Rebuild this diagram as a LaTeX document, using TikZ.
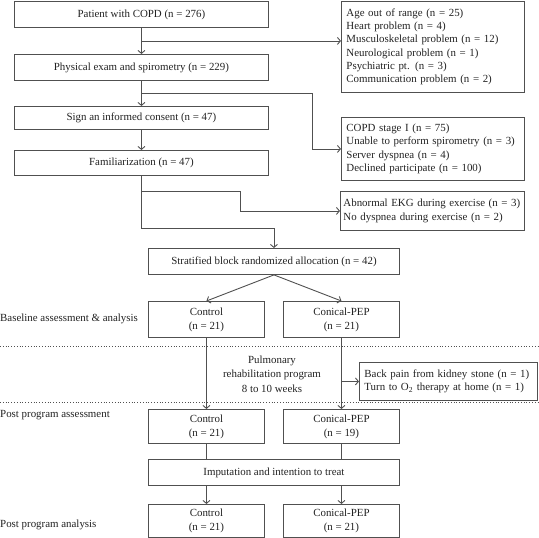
\documentclass[tikz,border=0pt]{standalone}
\usepackage{fontspec}
\setmainfont{Liberation Serif}
\usetikzlibrary{arrows.meta,calc}
\definecolor{ln}{HTML}{505050}
\definecolor{tx}{HTML}{222222}
\tikzset{
  box/.style={draw=ln, line width=0.9pt, anchor=north west, inner sep=2pt, align=center, text=tx, font=\fontsize{10.9}{14}\selectfont},
  lbox/.style={box, align=left, inner xsep=5pt, font=\fontsize{10.9}{13.3}\selectfont},
  arr/.style={draw=ln, line width=0.9pt, -{Straight Barb[length=3pt,width=7pt]}},
  ln/.style={draw=ln, line width=0.9pt},
  lab/.style={anchor=west, inner sep=0pt, text=tx, font=\fontsize{10.9}{14}\selectfont},
  dots/.style={draw=ln, line width=0.8pt, dotted}
}
\begin{document}
\begin{tikzpicture}[x=1pt,y=-1pt]
\useasboundingbox (0,0) rectangle (539,538);
% main column
\node[box, minimum width=254, minimum height=26] (p1) at (14,1) {Patient with COPD (n = 276)};
\node[box, minimum width=254, minimum height=26] (p2) at (14,54) {Physical exam and spirometry (n = 229)};
\node[box, minimum width=254, minimum height=23] (p3) at (14,106) {Sign an informed consent (n = 47)};
\node[box, minimum width=254, minimum height=25] (p4) at (14,150) {Familiarization (n = 47)};
% exclusion boxes
\node[lbox, minimum width=183, minimum height=91, text width=173] (exA) at (341,1) {Age out of range (n = 25)\\Heart problem (n = 4)\\Musculoskeletal problem (n = 12)\\Neurological problem (n = 1)\\Psychiatric pt. (n = 3)\\Communication problem (n = 2)};
\node[lbox, minimum width=183, minimum height=63, text width=173] (exB) at (341,117) {COPD stage I (n = 75)\\Unable to perform spirometry (n = 3)\\Server dyspnea (n = 4)\\Declined participate (n = 100)};
\node[lbox, inner xsep=3pt, minimum width=184, minimum height=39, text width=178] (exC) at (340,191) {Abnormal EKG during exercise (n = 3)\\No dyspnea during exercise (n = 2)};
% allocation
\node[box, minimum width=251, minimum height=26] (strat) at (148,248) {Stratified block randomized allocation (n = 42)};
\node[box, minimum width=116, minimum height=36] (ctl1) at (148,301) {Control\\(n = 21)};
\node[box, minimum width=116, minimum height=36] (pep1) at (283,301) {Conical-PEP\\(n = 21)};
\node[lbox, minimum width=178, minimum height=38, text width=168] (exD) at (359,362) {Back pain from kidney stone (n = 1)\\Turn to O\textsubscript{2} therapy at home (n = 1)};
\node[box, minimum width=116, minimum height=34] (ctl2) at (148,409) {Control\\(n = 21)};
\node[box, minimum width=116, minimum height=34] (pep2) at (283,409) {Conical-PEP\\(n = 19)};
\node[box, minimum width=251, minimum height=26] (imp) at (148,459) {Imputation and intention to treat};
\node[box, minimum width=116, minimum height=33] (ctl3) at (148,504) {Control\\(n = 21)};
\node[box, minimum width=116, minimum height=33] (pep3) at (283,504) {Conical-PEP\\(n = 21)};
% side labels
\node[lab] (l1) at (0,319) {Baseline assessment \& analysis};
\node[lab] (l2) at (0,415) {Post program assessment};
\node[lab] (l3) at (0,525) {Post program analysis};
\node[align=center, inner sep=0pt, text=tx, font=\fontsize{10.9}{14.5}\selectfont] (prog) at (272,374) {Pulmonary\\rehabilitation program\\8 to 10 weeks};
% dotted separators
\draw[dots] (0,346) -- (539,346);
\draw[dots] (0,402) -- (539,402);
% connectors
\coordinate (b1) at ($(p1.south)!0.5!(p2.north)$);
\coordinate (b2) at ($(p2.south)!0.5!(p3.north)$);
\coordinate (b3) at ($(p4.south)+(0,16)$);
\coordinate (b4) at ($(strat.north)+(0,-20)$);
\draw[arr] (p1.south) -- (p2.north);
\draw[arr] (b1) -- (b1 -| exA.west);
\draw[arr] (p2.south) -- (p3.north);
\draw[arr] (b2) -- ++(171,0) |- (exB.west);
\draw[arr] (p3.south) -- (p4.north);
\draw[arr] (b3) -- ++(99,0) |- (exC.west);
\draw[arr] (p4.south) |- (b4) -- (strat.north);
\draw[arr] (strat.south) -- (ctl1.north);
\draw[arr] (strat.south) -- (pep1.north);
\draw[arr] (ctl1.south) -- (ctl2.north);
\draw[arr] (pep1.south) -- (pep2.north);
\draw[arr] (pep1.south |- exD.west) -- (exD.west);
\draw[ln] (ctl2.south) -- (ctl2.south |- imp.north);
\draw[ln] (pep2.south) -- (pep2.south |- imp.north);
\draw[arr] (ctl3.north |- imp.south) -- (ctl3.north);
\draw[arr] (pep3.north |- imp.south) -- (pep3.north);
\end{tikzpicture}
\end{document}
